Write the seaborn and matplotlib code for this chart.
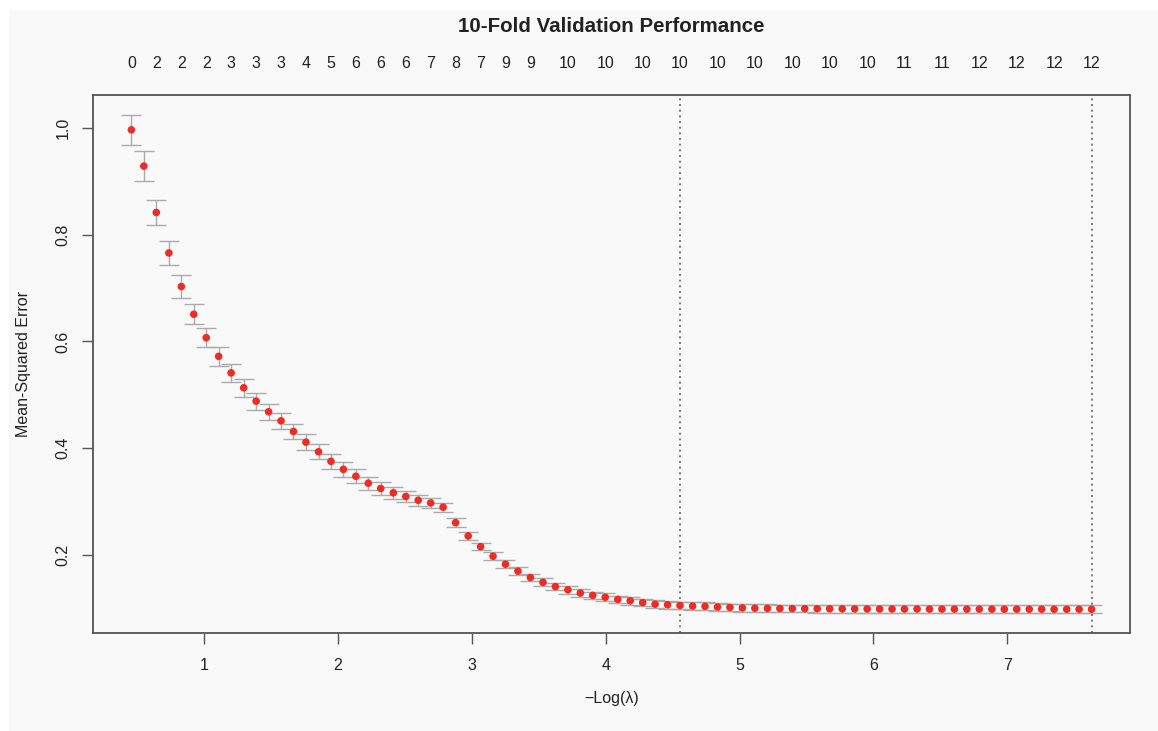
import matplotlib
matplotlib.use("Agg")
import matplotlib.pyplot as plt
import numpy as np
import pandas as pd
import seaborn as sns
from matplotlib.patches import Rectangle

# ---------------- data ----------------
neg_log_lambda = [
    0.456, 0.549, 0.642, 0.736, 0.829, 0.922, 1.015, 1.108, 1.201, 1.295,
    1.388, 1.481, 1.574, 1.667, 1.760, 1.854, 1.947, 2.040, 2.133, 2.226,
    2.319, 2.413, 2.506, 2.599, 2.692, 2.785, 2.878, 2.972, 3.065, 3.158,
    3.251, 3.344, 3.437, 3.531, 3.624, 3.717, 3.810, 3.903, 3.996, 4.090,
    4.183, 4.276, 4.369, 4.462, 4.555, 4.649, 4.742, 4.835, 4.928, 5.021,
    5.114, 5.208, 5.301, 5.394, 5.487, 5.580, 5.673, 5.767, 5.860, 5.953,
    6.046, 6.139, 6.232, 6.326, 6.419, 6.512, 6.605, 6.698, 6.791, 6.885,
    6.978, 7.071, 7.164, 7.257, 7.350, 7.444, 7.537, 7.630,
]
mse = [
    0.997, 0.929, 0.842, 0.766, 0.703, 0.651, 0.607, 0.572, 0.541, 0.513,
    0.488, 0.468, 0.451, 0.431, 0.411, 0.393, 0.375, 0.360, 0.347, 0.334,
    0.324, 0.316, 0.309, 0.302, 0.297, 0.289, 0.260, 0.235, 0.215, 0.197,
    0.182, 0.169, 0.157, 0.148, 0.140, 0.134, 0.128, 0.1235, 0.120, 0.116,
    0.1135, 0.110, 0.107, 0.106, 0.1047, 0.1035, 0.103, 0.1017, 0.101, 0.100,
    0.0995, 0.0992, 0.0990, 0.0988, 0.0986, 0.0985, 0.0984, 0.0983, 0.0982, 0.0981,
    0.0980, 0.0980, 0.0979, 0.0979, 0.0978, 0.0978, 0.0978, 0.0977, 0.0977, 0.0977,
    0.0976, 0.0976, 0.0976, 0.0976, 0.0975, 0.0975, 0.0975, 0.0975,
]
mse_se = [
    0.028, 0.0275, 0.0235, 0.022, 0.021, 0.019, 0.018, 0.0175, 0.017, 0.0165,
    0.016, 0.0155, 0.015, 0.0148, 0.0146, 0.0144, 0.014, 0.0135, 0.013, 0.0125,
    0.012, 0.0115, 0.011, 0.0105, 0.010, 0.0085, 0.008, 0.0075, 0.0072, 0.0072,
    0.0072, 0.0072, 0.0072, 0.0072, 0.0072, 0.0072, 0.0072, 0.0072, 0.0072, 0.0072,
    0.0072, 0.0072, 0.0072, 0.0072, 0.0072, 0.0072, 0.0072, 0.0072, 0.0072, 0.0072,
    0.0072, 0.0072, 0.0072, 0.0072, 0.0072, 0.0072, 0.0072, 0.0072, 0.0072, 0.0072,
    0.0072, 0.0072, 0.0072, 0.0072, 0.0072, 0.0072, 0.0072, 0.0072, 0.0072, 0.0072,
    0.0072, 0.0072, 0.0072, 0.0072, 0.0072, 0.0072, 0.0072, 0.0072,
]
nonzero = [
    0, 1, 2, 2, 2, 2, 2, 3, 3, 3,
    3, 3, 3, 4, 4, 5, 5, 6, 6, 6,
    6, 6, 6, 7, 7, 8, 8, 7, 7, 8,
    9, 9, 9, 9, 10, 10, 10, 10, 10, 10,
    10, 10, 10, 10, 10, 10, 10, 10, 10, 10,
    10, 10, 10, 10, 10, 10, 10, 10, 10, 10,
    10, 10, 11, 11, 11, 11, 11, 11, 12, 12,
    12, 12, 12, 12, 12, 12, 12, 12,
]
idx_lambda_min = 77
idx_lambda_1se = 44
title = "10-Fold Validation Performance"
x_label = "\u2212Log(\u03bb)"
y_label = "Mean-Squared Error"
x_ticks = [1, 2, 3, 4, 5, 6, 7]
y_ticks = [0.2, 0.4, 0.6, 0.8, 1.0]

df = pd.DataFrame({"x": neg_log_lambda, "mse": mse, "se": mse_se, "nz": nonzero})

# ---------------- style ----------------
sns.set_style("ticks")
plt.rcParams["font.family"] = ["Liberation Sans", "DejaVu Sans"]
text_col = "#222222"
frame_col = "#555555"
bg = "#F9F9F9"

W, H = 1158, 731
fig = plt.figure(figsize=(W / 100, H / 100), dpi=100)
fig.patch.set_facecolor("white")
fig.add_artist(Rectangle((9 / W, 0), 1 - 9 / W, 1 - 10 / H, transform=fig.transFigure,
                         facecolor=bg, edgecolor="none", zorder=-10))

ax = fig.add_axes([93 / W, 1 - 633 / H, (1130 - 93) / W, (633 - 95) / H])
ax.set_facecolor(bg)

# error bars
ax.errorbar(df["x"], df["mse"], yerr=df["se"], fmt="none", ecolor="#AAAAAA",
            elinewidth=1.0, capsize=7, capthick=1.0, zorder=2)
# points
sns.scatterplot(data=df, x="x", y="mse", ax=ax, color="#EE2C24", s=30,
                edgecolor="none", zorder=3, legend=False)

# vertical dotted lines
for i in (idx_lambda_1se, idx_lambda_min):
    ax.axvline(neg_log_lambda[i], color="#666666", linestyle=(0, (1.2, 2.2)),
               linewidth=1.2, zorder=1)

# R-like limits (4% extension)
xmin, xmax = min(neg_log_lambda), max(neg_log_lambda)
lo = (df["mse"] - df["se"]).min()
hi = (df["mse"] + df["se"]).max()
ax.set_xlim(xmin - 0.04 * (xmax - xmin), xmax + 0.04 * (xmax - xmin))
ax.set_ylim(lo - 0.04 * (hi - lo), hi + 0.04 * (hi - lo))

for sp in ax.spines.values():
    sp.set_visible(True)
    sp.set_color(frame_col)
    sp.set_linewidth(1.3)

ax.set_xticks(x_ticks)
ax.set_xticklabels([str(t) for t in x_ticks])
ax.set_yticks(y_ticks)
ax.set_yticklabels([f"{t:.1f}" for t in y_ticks], rotation=90, va="center")
ax.tick_params(axis="both", direction="out", length=8, width=1.0, color=frame_col,
               labelsize=11.5, labelcolor=text_col)
ax.tick_params(axis="x", pad=10)
ax.tick_params(axis="y", pad=8)
ax.set_xlabel(x_label, fontsize=11.5, color=text_col, labelpad=13)
ax.set_ylabel(y_label, fontsize=11.5, color=text_col, labelpad=18)

# top axis with number of nonzero coefficients (skip overlapping labels like R)
char_w, gap = 0.065, 0.105
shown = []
last_x, last_w = None, None
for xv, n in zip(neg_log_lambda, nonzero):
    w = char_w * len(str(n))
    if last_x is None or (xv - last_x) >= (w + last_w) / 2 + gap:
        shown.append((xv, str(n)))
        last_x, last_w = xv, w
top = ax.secondary_xaxis("top")
top.set_xticks([s[0] for s in shown])
top.set_xticklabels([s[1] for s in shown])
top.tick_params(length=0, pad=17, labelsize=11.5, labelcolor=text_col)
top.spines["top"].set_visible(False)

fig.text(0.5 * (93 + 1130) / W, 1 - 27 / H, title, ha="center", va="center",
         fontsize=14.8, fontweight="bold", color=text_col)

fig.savefig("out.png", dpi=100, facecolor=fig.get_facecolor())
